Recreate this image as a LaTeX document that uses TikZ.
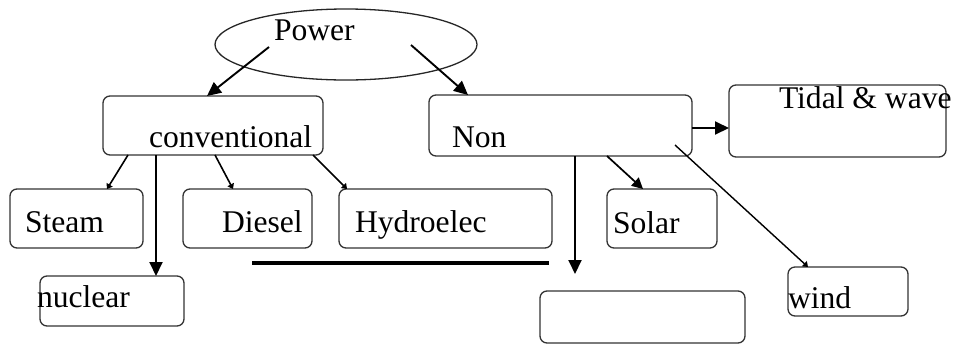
\documentclass[tikz,border=0pt]{standalone}
\usepackage{fontspec}
\setmainfont{Liberation Serif}
\usetikzlibrary{arrows.meta,calc,shapes.geometric}
\begin{document}
\begin{tikzpicture}[x=1pt,y=-1pt,
  box/.style={draw=black!80,line width=1.3pt,rounded corners=7pt,inner sep=0pt,outer sep=0pt},
  lbl/.style={anchor=base west,inner sep=0pt,outer sep=0pt,font=\fontsize{31.6}{36}\selectfont},
  big/.style={line width=1.9pt,-{Triangle[length=14pt,width=13pt]}},
  mid/.style={line width=1.7pt,-{Triangle[length=11pt,width=11pt]}},
  small/.style={line width=1.6pt,-{Triangle[length=5pt,width=7pt]}},
  thin/.style={line width=1.4pt,-{Triangle[length=5pt,width=7pt]}}]
\useasboundingbox (0,0) rectangle (955,346);
% boxes
\node[draw=black!85,line width=1.3pt,ellipse,minimum width=262pt,minimum height=71pt,inner sep=0pt,outer sep=0pt] (pell) at (346,44.5) {};
\node[box,minimum width=220pt,minimum height=59pt] (conv) at (213,125.5) {};
\node[box,minimum width=263pt,minimum height=61pt] (non) at (560.5,125.5) {};
\node[box,minimum width=217pt,minimum height=72pt] (tidal) at (837.5,121) {};
\node[box,minimum width=133pt,minimum height=59pt] (steam) at (76.5,218.5) {};
\node[box,minimum width=129pt,minimum height=59pt] (diesel) at (247.5,218.5) {};
\node[box,minimum width=213pt,minimum height=59pt] (hydro) at (445.5,218.5) {};
\node[box,minimum width=110pt,minimum height=59pt] (solar) at (662,218.5) {};
\node[box,minimum width=144pt,minimum height=50pt] (nuclear) at (112,301) {};
\node[box,minimum width=205pt,minimum height=52pt] (empty) at (642.5,317) {};
\node[box,minimum width=120pt,minimum height=49pt] (wind) at (848,291.5) {};
% texts
\node[lbl] (tpower) at (274,40) {Power};
\node[lbl] (tconv) at (149,147) {conventional};
\node[lbl] (tnon) at (452,147) {Non};
\node[lbl] (ttidal) at (779,108) {Tidal \& wave};
\node[lbl] (tsteam) at (25,232) {Steam};
\node[lbl] (tdiesel) at (222,232) {Diesel};
\node[lbl] (thydro) at (355,232) {Hydroelec};
\node[lbl] (tsolar) at (613,233) {Solar};
\node[lbl] (tnuclear) at (37,307) {nuclear};
\node[lbl] (twind) at (788,308) {wind};
% connectors
\draw[big] ($(pell.center)+(-77,2.5)$) -- ($(conv.north west)+(104,0)$);
\draw[big] ($(pell.center)+(65,0.5)$) -- ($(non.north west)+(39,0)$);
\draw[small] ($(conv.south west)+(25,0)$) -- ($(steam.north west)+(97,0)$);
\draw[big] ($(conv.south west)+(53,0)$) -- ($(nuclear.north west)+(116,0)$);
\draw[small] ($(conv.south west)+(112,0)$) -- ($(diesel.north west)+(50,0)$);
\draw[small] ($(conv.south east)+(-10,0)$) -- ($(hydro.north west)+(8,0)$);
\coordinate (nt) at ($(non.east)+(0,2.5)$);
\draw[big] (nt) -- (nt -| tidal.west);
\draw[big] ($(non.south west)+(146,0)$) -- ($(empty.north west)+(35,-17)$);
\draw[mid] ($(non.south west)+(178,0)$) -- ($(solar.north west)+(36,0)$);
\draw[thin] ($(non.south east)+(-17,-11)$) -- ($(wind.north west)+(20,0)$);
% horizontal bar
\coordinate (l1) at (252,263);
\coordinate (l2) at (549,263);
\draw[line width=3.5pt] (l1) -- (l2);
\end{tikzpicture}
\end{document}
